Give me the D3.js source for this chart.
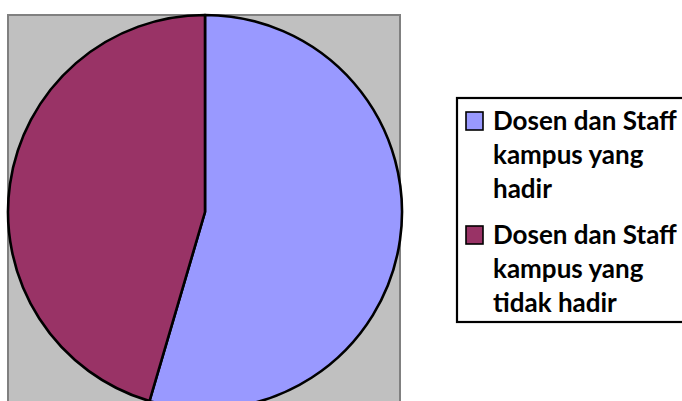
<!DOCTYPE html>
<html>
<head>
<meta charset="utf-8">
<script src="https://cdn.jsdelivr.net/npm/d3@7"></script>
<style>
  html, body { margin: 0; padding: 0; background: #fff; overflow: hidden; }
</style>
</head>
<body>
<div id="chart"></div>
<script>
const categories = ['Dosen dan Staff kampus yang hadir', 'Dosen dan Staff kampus yang tidak hadir'];
const values = [6, 5];
const legendLines = [
    ['Dosen dan Staff', 'kampus yang', 'hadir'],
    ['Dosen dan Staff', 'kampus yang', 'tidak hadir']
];
const colors = ['#9999FF', '#993366'];

const W = 682, H = 401;
const svg = d3.select('#chart')
    .append('svg')
    .attr('width', W)
    .attr('height', H);

// plot area
svg.append('rect')
    .attr('x', 8)
    .attr('y', 15)
    .attr('width', 392)
    .attr('height', 400)
    .attr('fill', '#C0C0C0')
    .attr('stroke', '#808080')
    .attr('stroke-width', 2);

const cx = 205, cy = 212, r = 197;

const pie = d3.pie().sort(null).value(d => d);
const arc = d3.arc().innerRadius(0).outerRadius(r);

const g = svg.append('g')
    .attr('transform', `translate(${cx},${cy})`);

g.selectAll('path')
    .data(pie(values))
    .enter()
    .append('path')
    .attr('d', arc)
    .attr('fill', (d, i) => colors[i])
    .attr('stroke', '#000')
    .attr('stroke-width', 2.6)
    .attr('stroke-linejoin', 'round');

// legend
svg.append('rect')
    .attr('x', 457)
    .attr('y', 98)
    .attr('width', 240)
    .attr('height', 224)
    .attr('fill', '#fff')
    .attr('stroke', '#000')
    .attr('stroke-width', 2.2);

const legend = svg.append('g');
categories.forEach((c, i) => {
    const top = 112 + i * 114;
    const row = legend.append('g').attr('transform', `translate(0, ${top})`);
    row.append('rect')
        .attr('x', 466)
        .attr('y', 0)
        .attr('width', 17)
        .attr('height', 18)
        .attr('fill', colors[i])
        .attr('stroke', '#000')
        .attr('stroke-width', 1.6);
    legendLines[i].forEach((line, j) => {
        row.append('text')
            .attr('x', 493)
            .attr('y', 18 + j * 34)
            .attr('fill', '#000')
            .style('font-family', 'Lato, "Open Sans", sans-serif')
            .style('font-weight', 'bold')
            .style('font-size', '26px')
            .text(line);
    });
});
</script>
</body>
</html>
